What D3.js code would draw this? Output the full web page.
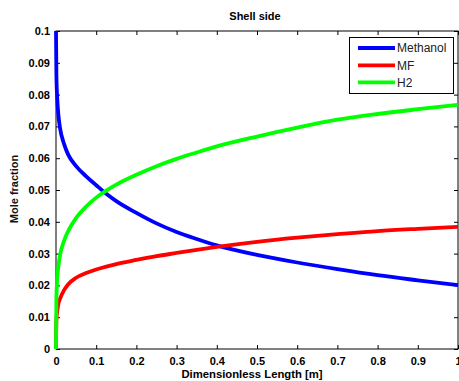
<!DOCTYPE html>
<html>
<head>
<meta charset="utf-8">
<script src="https://cdn.jsdelivr.net/npm/d3@7"></script>
<style>
html,body{margin:0;padding:0;background:#fff;}
svg{display:block;}
text{font-family:"Liberation Sans",Arial,Helvetica,sans-serif;}
</style>
</head>
<body>
<svg id="chart" width="459" height="381"></svg>
<script>
const title = "Shell side";
const xLabel = "Dimensionless Length [m]";
const yLabel = "Mole fraction";
const seriesNames = ["Methanol", "MF", "H2"];
const seriesColors = ["#0000ff", "#ff0000", "#00ff00"];
const xTicks = [0, 0.1, 0.2, 0.3, 0.4, 0.5, 0.6, 0.7, 0.8, 0.9, 1];
const xTickLabels = ["0", "0.1", "0.2", "0.3", "0.4", "0.5", "0.6", "0.7", "0.8", "0.9", "1"];
const yTicks = [0, 0.01, 0.02, 0.03, 0.04, 0.05, 0.06, 0.07, 0.08, 0.09, 0.1];
const yTickLabels = ["0", "0.01", "0.02", "0.03", "0.04", "0.05", "0.06", "0.07", "0.08", "0.09", "0.1"];

const lengthX  = [0, 0.001, 0.003, 0.006, 0.01, 0.02, 0.03, 0.05, 0.075, 0.1, 0.125, 0.15, 0.2, 0.25, 0.3, 0.35, 0.4, 0.5, 0.6, 0.7, 0.8, 0.9, 1.0];
const methanol = [0.1, 0.086, 0.079, 0.0735, 0.0695, 0.0645, 0.0612, 0.0575, 0.0543, 0.0515, 0.0488, 0.0465, 0.0428, 0.0395, 0.0368, 0.0346, 0.0326, 0.0296, 0.0272, 0.0251, 0.0232, 0.0216, 0.0201];
const mf       = [0, 0.009, 0.0118, 0.0142, 0.0158, 0.0185, 0.0203, 0.0224, 0.0239, 0.0250, 0.0259, 0.0267, 0.0280, 0.0292, 0.0302, 0.0312, 0.0321, 0.0337, 0.0350, 0.0361, 0.0371, 0.0378, 0.0384];
const h2       = [0, 0.016, 0.022, 0.026, 0.0295, 0.034, 0.037, 0.0412, 0.0448, 0.0476, 0.0498, 0.0517, 0.0548, 0.0575, 0.0598, 0.0618, 0.0637, 0.0668, 0.0696, 0.0721, 0.0739, 0.0754, 0.0768];

const seriesValues = [methanol, mf, h2];

const svg = d3.select("#chart");
const mLeft = 56, mRight = 458, mTop = 31, mBottom = 349;

const x = d3.scaleLinear().domain([0, 1]).range([mLeft, mRight]);
const y = d3.scaleLinear().domain([0, 0.1]).range([mBottom, mTop]);

// frame
svg.append("rect").attr("x", mLeft).attr("y", mTop).attr("width", mRight - mLeft).attr("height", mBottom - mTop)
  .attr("fill", "none").attr("stroke", "#000").attr("stroke-width", 1);

const tickLen = 4;
const xAxisB = d3.axisBottom(x).tickValues(xTicks).tickSize(-tickLen).tickPadding(tickLen + 4)
  .tickFormat((d, i) => xTickLabels[i]);
const gxb = svg.append("g").attr("transform", `translate(0,${mBottom})`).call(xAxisB);
const xAxisT = d3.axisTop(x).tickValues(xTicks).tickSize(-tickLen).tickFormat("");
const gxt = svg.append("g").attr("transform", `translate(0,${mTop})`).call(xAxisT);
const yAxisL = d3.axisLeft(y).tickValues(yTicks).tickSize(-tickLen).tickPadding(tickLen + 2)
  .tickFormat((d, i) => yTickLabels[i]);
const gyl = svg.append("g").attr("transform", `translate(${mLeft},0)`).call(yAxisL);
const yAxisR = d3.axisRight(y).tickValues(yTicks).tickSize(-tickLen).tickFormat("");
const gyr = svg.append("g").attr("transform", `translate(${mRight},0)`).call(yAxisR);

[gxb, gxt, gyl, gyr].forEach(g => {
  g.select(".domain").remove();
  g.selectAll(".tick line").attr("stroke", "#000").attr("stroke-width", 1);
  g.selectAll(".tick text").attr("font-size", 11).attr("font-weight", "bold").attr("fill", "#000");
});

// lines
const line = d3.line().x(d => x(d[0])).y(d => y(d[1])).curve(d3.curveMonotoneX);
seriesValues.forEach((vals, k) => {
  const pts = lengthX.map((u, i) => [u, vals[i]]);
  svg.append("path").datum(pts).attr("d", line)
    .attr("fill", "none").attr("stroke", seriesColors[k]).attr("stroke-width", 3.8)
    .attr("stroke-linejoin", "round");
});

// title & labels
svg.append("text").attr("x", 255).attr("y", 20).attr("text-anchor", "middle")
  .attr("font-size", 11).attr("font-weight", "bold").attr("fill", "#000").text(title);
svg.append("text").attr("x", 252).attr("y", 378).attr("text-anchor", "middle")
  .attr("font-size", 11.3).attr("font-weight", "bold").attr("fill", "#000").text(xLabel);
svg.append("text").attr("transform", "translate(18,189) rotate(-90)").attr("text-anchor", "middle")
  .attr("font-size", 11).attr("font-weight", "bold").attr("fill", "#111").text(yLabel);

// legend
const lg = svg.append("g");
lg.append("rect").attr("x", 349.5).attr("y", 37.5).attr("width", 104).attr("height", 56)
  .attr("fill", "#fff").attr("stroke", "#000").attr("stroke-width", 1);
const rowY = [48, 65.3, 82.3];
seriesNames.forEach((name, k) => {
  lg.append("line").attr("x1", 358).attr("x2", 395).attr("y1", rowY[k]).attr("y2", rowY[k])
    .attr("stroke", seriesColors[k]).attr("stroke-width", 3.8);
  lg.append("text").attr("x", 397).attr("y", rowY[k] + 4.3).attr("font-size", 12)
    .attr("fill", "#222").text(name);
});
</script>
</body>
</html>
